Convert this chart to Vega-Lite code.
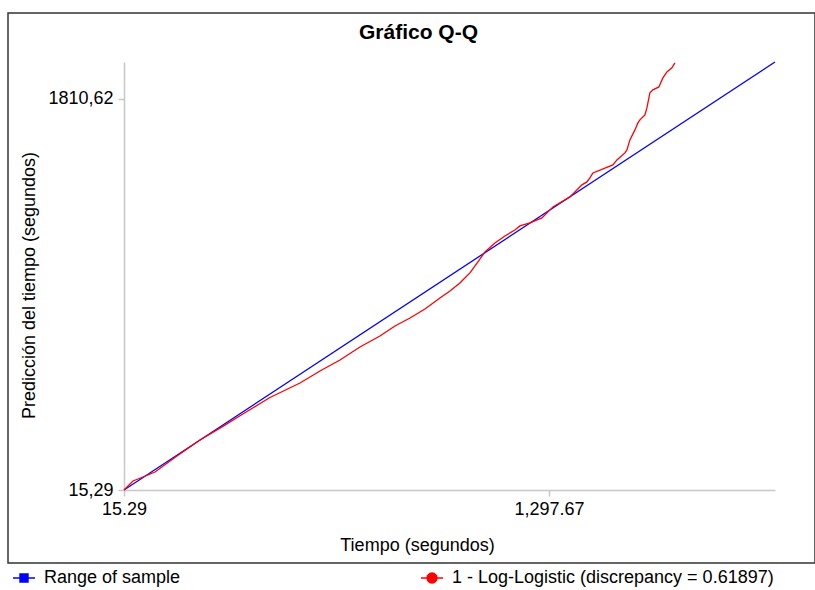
{
  "$schema": "https://vega.github.io/schema/vega-lite/v6.json",
  "autosize": "none",
  "width": 807,
  "height": 550,
  "padding": {"left": 8, "top": 13, "right": 0, "bottom": 27},
  "background": "white",
  "config": {
    "view": {"stroke": "#333333", "strokeWidth": 1.5},
    "font": "Liberation Sans"
  },
  "title": {
    "text": "Gráfico Q-Q",
    "font": "Liberation Sans",
    "fontSize": 21,
    "fontWeight": "bold",
    "color": "black",
    "anchor": "middle",
    "frame": "group",
    "baseline": "middle",
    "offset": 0,
    "dy": 41,
    "dx": 7
  },
  "data": {
    "values": [
      {"s": "Range of sample", "x": 15.29, "y": 15.29},
      {"s": "Range of sample", "x": 1980, "y": 1980},
      {"s": "1 - Log-Logistic (discrepancy = 0.61897)", "x": 15.29, "y": 15.29},
      {"s": "1 - Log-Logistic (discrepancy = 0.61897)", "x": 27.4, "y": 33.7},
      {"s": "1 - Log-Logistic (discrepancy = 0.61897)", "x": 42.4, "y": 56.6},
      {"s": "1 - Log-Logistic (discrepancy = 0.61897)", "x": 72.6, "y": 75.0},
      {"s": "1 - Log-Logistic (discrepancy = 0.61897)", "x": 108.8, "y": 97.9},
      {"s": "1 - Log-Logistic (discrepancy = 0.61897)", "x": 175.2, "y": 171.4},
      {"s": "1 - Log-Logistic (discrepancy = 0.61897)", "x": 244.6, "y": 244.9},
      {"s": "1 - Log-Logistic (discrepancy = 0.61897)", "x": 310.0, "y": 304.0},
      {"s": "1 - Log-Logistic (discrepancy = 0.61897)", "x": 365.3, "y": 356.0},
      {"s": "1 - Log-Logistic (discrepancy = 0.61897)", "x": 455.8, "y": 440.0},
      {"s": "1 - Log-Logistic (discrepancy = 0.61897)", "x": 546.4, "y": 506.6},
      {"s": "1 - Log-Logistic (discrepancy = 0.61897)", "x": 606.7, "y": 561.7},
      {"s": "1 - Log-Logistic (discrepancy = 0.61897)", "x": 667.1, "y": 612.2},
      {"s": "1 - Log-Logistic (discrepancy = 0.61897)", "x": 727.4, "y": 671.9},
      {"s": "1 - Log-Logistic (discrepancy = 0.61897)", "x": 787.7, "y": 722.4},
      {"s": "1 - Log-Logistic (discrepancy = 0.61897)", "x": 833.0, "y": 768.3},
      {"s": "1 - Log-Logistic (discrepancy = 0.61897)", "x": 878.3, "y": 805.0},
      {"s": "1 - Log-Logistic (discrepancy = 0.61897)", "x": 923.5, "y": 846.4},
      {"s": "1 - Log-Logistic (discrepancy = 0.61897)", "x": 968.8, "y": 896.9},
      {"s": "1 - Log-Logistic (discrepancy = 0.61897)", "x": 999.0, "y": 929.0},
      {"s": "1 - Log-Logistic (discrepancy = 0.61897)", "x": 1029.1, "y": 965.8},
      {"s": "1 - Log-Logistic (discrepancy = 0.61897)", "x": 1059.3, "y": 1011.7},
      {"s": "1 - Log-Logistic (discrepancy = 0.61897)", "x": 1083.4, "y": 1062.2},
      {"s": "1 - Log-Logistic (discrepancy = 0.61897)", "x": 1104.6, "y": 1108.1},
      {"s": "1 - Log-Logistic (discrepancy = 0.61897)", "x": 1134.7, "y": 1149.4},
      {"s": "1 - Log-Logistic (discrepancy = 0.61897)", "x": 1164.9, "y": 1181.6},
      {"s": "1 - Log-Logistic (discrepancy = 0.61897)", "x": 1195.1, "y": 1209.1},
      {"s": "1 - Log-Logistic (discrepancy = 0.61897)", "x": 1210.2, "y": 1227.5},
      {"s": "1 - Log-Logistic (discrepancy = 0.61897)", "x": 1240.4, "y": 1241.2},
      {"s": "1 - Log-Logistic (discrepancy = 0.61897)", "x": 1276.6, "y": 1264.2},
      {"s": "1 - Log-Logistic (discrepancy = 0.61897)", "x": 1309.8, "y": 1314.8},
      {"s": "1 - Log-Logistic (discrepancy = 0.61897)", "x": 1361.1, "y": 1360.6},
      {"s": "1 - Log-Logistic (discrepancy = 0.61897)", "x": 1376.2, "y": 1383.6},
      {"s": "1 - Log-Logistic (discrepancy = 0.61897)", "x": 1397.3, "y": 1415.9},
      {"s": "1 - Log-Logistic (discrepancy = 0.61897)", "x": 1412.4, "y": 1429.5},
      {"s": "1 - Log-Logistic (discrepancy = 0.61897)", "x": 1421.4, "y": 1447.9},
      {"s": "1 - Log-Logistic (discrepancy = 0.61897)", "x": 1430.5, "y": 1470.8},
      {"s": "1 - Log-Logistic (discrepancy = 0.61897)", "x": 1490.8, "y": 1507.6},
      {"s": "1 - Log-Logistic (discrepancy = 0.61897)", "x": 1502.9, "y": 1530.5},
      {"s": "1 - Log-Logistic (discrepancy = 0.61897)", "x": 1527.0, "y": 1562.7},
      {"s": "1 - Log-Logistic (discrepancy = 0.61897)", "x": 1533.1, "y": 1576.4},
      {"s": "1 - Log-Logistic (discrepancy = 0.61897)", "x": 1542.1, "y": 1622.4},
      {"s": "1 - Log-Logistic (discrepancy = 0.61897)", "x": 1557.2, "y": 1668.3},
      {"s": "1 - Log-Logistic (discrepancy = 0.61897)", "x": 1566.3, "y": 1700.4},
      {"s": "1 - Log-Logistic (discrepancy = 0.61897)", "x": 1572.3, "y": 1714.2},
      {"s": "1 - Log-Logistic (discrepancy = 0.61897)", "x": 1587.4, "y": 1737.1},
      {"s": "1 - Log-Logistic (discrepancy = 0.61897)", "x": 1593.4, "y": 1769.3},
      {"s": "1 - Log-Logistic (discrepancy = 0.61897)", "x": 1602.5, "y": 1838.2},
      {"s": "1 - Log-Logistic (discrepancy = 0.61897)", "x": 1611.5, "y": 1852.0},
      {"s": "1 - Log-Logistic (discrepancy = 0.61897)", "x": 1629.6, "y": 1865.7},
      {"s": "1 - Log-Logistic (discrepancy = 0.61897)", "x": 1641.7, "y": 1907.0},
      {"s": "1 - Log-Logistic (discrepancy = 0.61897)", "x": 1653.8, "y": 1934.6},
      {"s": "1 - Log-Logistic (discrepancy = 0.61897)", "x": 1668.9, "y": 1953.0},
      {"s": "1 - Log-Logistic (discrepancy = 0.61897)", "x": 1677.9, "y": 1975.9}
    ]
  },
  "mark": {"type": "line", "strokeWidth": 1.3, "clip": false},
  "encoding": {
    "x": {
      "field": "x",
      "type": "quantitative",
      "scale": {"domain": [15.29, 1980], "range": [116, 767], "nice": false, "zero": false},
      "axis": {
        "values": [15.29, 1297.67],
        "format": ",.2f",
        "offset": -73,
        "grid": false,
        "domainColor": "#c8c8c8",
        "domainWidth": 1.5,
        "tickColor": "#c8c8c8",
        "tickWidth": 1.5,
        "tickSize": 6,
        "labelFont": "Liberation Sans",
        "labelFontSize": 18,
        "labelColor": "black",
        "labelPadding": 4,
        "labelFlush": false,
        "labelOverlap": false,
        "title": "Tiempo (segundos)",
        "titleFont": "Liberation Sans",
        "titleFontSize": 18,
        "titleFontWeight": "normal",
        "titleColor": "black",
        "titleX": 409,
        "titleY": 55,
        "titleBaseline": "middle",
        "titleAlign": "center"
      }
    },
    "y": {
      "field": "y",
      "type": "quantitative",
      "scale": {"domain": [15.29, 1980], "range": [477, 49], "nice": false, "zero": false},
      "axis": {
        "values": [15.29, 1810.62],
        "labelExpr": "replace(format(datum.value, '.2f'), '.', ',')",
        "offset": -116,
        "grid": false,
        "domainColor": "#c8c8c8",
        "domainWidth": 1.5,
        "tickColor": "#c8c8c8",
        "tickWidth": 1.5,
        "tickSize": 6,
        "labelFont": "Liberation Sans",
        "labelFontSize": 18,
        "labelColor": "black",
        "labelPadding": 5,
        "labelFlush": false,
        "labelOverlap": false,
        "title": "Predicción del tiempo (segundos)",
        "titleFont": "Liberation Sans",
        "titleFontSize": 18,
        "titleFontWeight": "normal",
        "titleColor": "black",
        "titleX": -95,
        "titleY": 272,
        "titleAngle": -90,
        "titleBaseline": "middle",
        "titleAlign": "center"
      }
    },
    "color": {
      "field": "s",
      "type": "nominal",
      "scale": {
        "domain": ["Range of sample", "1 - Log-Logistic (discrepancy = 0.61897)"],
        "range": ["#0000ff", "#ff0000"]
      },
      "legend": {
        "title": null,
        "orient": "none",
        "legendX": 4,
        "legendY": 553,
        "direction": "horizontal",
        "columns": 2,
        "columnPadding": 237,
        "padding": 0,
        "labelOffset": 8,
        "labelFont": "Liberation Sans",
        "labelFontSize": 18,
        "labelColor": "black",
        "labelLimit": 600,
        "symbolSize": 484,
        "symbolStrokeWidth": 1.5,
        "encode": {
          "symbols": {
            "update": {
              "fill": {"scale": "color", "field": "value"},
              "stroke": {"scale": "color", "field": "value"},
              "shape": {"signal": "datum.index === 0 ? 'M-1,0H1M-0.36,-0.36H0.36V0.36H-0.36Z' : 'M-1,0H1M-0.45,0A0.45,0.45 0 1 1 0.45,0A0.45,0.45 0 1 1 -0.45,0Z'"}
            }
          }
        }
      }
    }
  }
}
